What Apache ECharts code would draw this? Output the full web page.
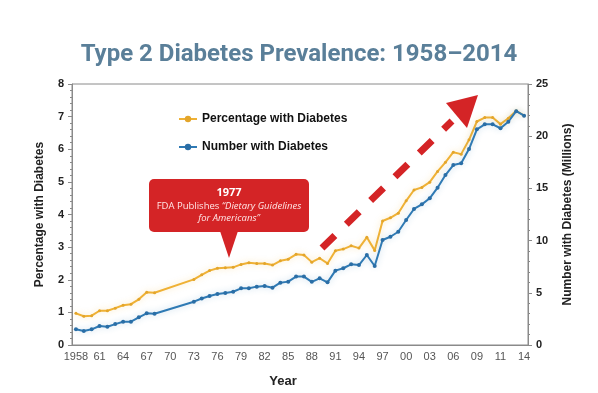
<!DOCTYPE html>
<html><head><meta charset="utf-8">
<script src="https://cdn.jsdelivr.net/npm/echarts@6/dist/echarts.min.js"></script>
<style>html,body{margin:0;padding:0;background:#fff}#c{width:598px;height:393px}</style>
</head><body><div id="c"></div>
<script>
const years = ['1958','1959','1960','1961','1962','1963','1964','1965','1966','1967','1968','1969','1970','1971','1972','1973','1974','1975','1976','1977','1978','1979','1980','1981','1982','1983','1984','1985','1986','1987','1988','1989','1990','1991','1992','1993','1994','1995','1996','1997','1998','1999','2000','2001','2002','2003','2004','2005','2006','2007','2008','2009','2010','2010.5','2011','2012','2013','2014'];
const pctWithDiabetes = [0.97,0.88,0.9,1.05,1.05,1.13,1.22,1.25,1.4,1.62,1.6,null,null,null,null,2.01,2.15,2.28,2.35,2.37,2.38,2.47,2.52,2.5,2.5,2.45,2.58,2.63,2.78,2.76,2.54,2.66,2.5,2.89,2.94,3.04,2.97,3.3,2.9,3.8,3.9,4.04,4.42,4.75,4.83,4.99,5.32,5.6,5.91,5.85,6.29,6.85,6.97,6.97,6.77,6.95,7.18,7.03];
const numWithDiabetes = [1.5,1.34,1.5,1.82,1.75,2.0,2.23,2.23,2.65,3.03,3.0,null,null,null,null,4.15,4.45,4.7,4.88,4.98,5.1,5.43,5.43,5.59,5.65,5.49,5.97,6.07,6.55,6.55,6.05,6.39,6.0,7.12,7.35,7.73,7.66,8.62,7.57,10.06,10.37,10.85,11.97,13.03,13.47,14.05,15.07,16.28,17.24,17.4,18.77,20.66,21.14,21.14,20.76,21.39,22.4,21.96];
const leftTicks = [0,1,2,3,4,5,6,7,8];
const rightTicks = [0,5,10,15,20,25];

const chart = echarts.init(document.getElementById('c'));
const RED = '#d42426';
const AX = '#8a8a8a';
chart.setOption({
  animation: false,
  title: {text: 'Type 2 Diabetes Prevalence: 1958\u20132014', left: 'center', top: 38,
    textStyle: {fontFamily: 'Liberation Sans Narrow, Roboto, sans-serif', fontWeight: 'bold', fontSize: 24, color: '#5a7f99'}},
  legend: {orient: 'vertical', left: 178, top: 113, padding: 0, itemGap: 16, itemWidth: 18, itemHeight: 8,
    textStyle: {fontFamily: 'Liberation Sans, Arial, sans-serif', fontWeight: 'bold', fontSize: 12, color: '#111'},
    data: ['Percentage with Diabetes', 'Number with Diabetes']},
  grid: {left: 72, right: 70, top: 84, bottom: 48, show: true, borderColor: AX, borderWidth: 1},
  xAxis: {type: 'category', data: years, boundaryGap: true,
    name: 'Year', nameLocation: 'middle', nameGap: 30,
    nameTextStyle: {fontFamily: 'Liberation Sans, Arial, sans-serif', fontWeight: 'bold', fontSize: 13, color: '#222', padding: [0, 34, 0, 0]},
    axisLine: {lineStyle: {color: AX}},
    axisTick: {interval: 0, length: 4, alignWithLabel: false, lineStyle: {color: AX}},
    axisLabel: {interval: 2, margin: 6, fontFamily: 'Liberation Sans, Arial, sans-serif', fontSize: 11, color: '#555',
      formatter: v => v === '1958' ? '1958' : v.slice(2, 4)}},
  yAxis: [
    {type: 'value', min: 0, max: 8, interval: 1, position: 'left',
      name: 'Percentage with Diabetes', nameLocation: 'middle', nameGap: 26,
      nameTextStyle: {fontFamily: 'Liberation Sans, Arial, sans-serif', fontWeight: 'bold', fontSize: 12, color: '#222'},
      axisLine: {show: true, lineStyle: {color: AX}},
      axisTick: {show: true, length: 4, lineStyle: {color: AX}},
      minorTick: {show: true, splitNumber: 5, length: 2, lineStyle: {color: AX}},
      splitLine: {show: false},
      axisLabel: {margin: 8, fontFamily: 'Liberation Sans, Arial, sans-serif', fontWeight: 'bold', fontSize: 11, color: '#222',
        formatter: v => leftTicks.includes(v) ? String(v) : ''}},
    {type: 'value', min: 0, max: 25, interval: 5, position: 'right',
      name: 'Number with Diabetes (Millions)', nameLocation: 'middle', nameGap: 34, nameRotate: 90,
      nameTextStyle: {fontFamily: 'Liberation Sans, Arial, sans-serif', fontWeight: 'bold', fontSize: 12, color: '#222'},
      axisLine: {show: true, lineStyle: {color: AX}},
      axisTick: {show: true, length: 4, lineStyle: {color: AX}},
      minorTick: {show: true, splitNumber: 5, length: 2, lineStyle: {color: AX}},
      splitLine: {show: false},
      axisLabel: {margin: 8, fontFamily: 'Liberation Sans, Arial, sans-serif', fontWeight: 'bold', fontSize: 11, color: '#222',
        formatter: v => rightTicks.includes(v) ? String(v) : ''}}
  ],
  series: [
    {name: 'Percentage with Diabetes', type: 'line', yAxisIndex: 0, data: pctWithDiabetes, connectNulls: true,
      symbol: 'circle', symbolSize: 3, showSymbol: true,
      lineStyle: {color: '#efb135', width: 2, shadowColor: 'rgba(239,177,53,0.35)', shadowBlur: 6},
      itemStyle: {color: '#e3a52a'}},
    {name: 'Number with Diabetes', type: 'line', yAxisIndex: 1, data: numWithDiabetes, connectNulls: true,
      symbol: 'circle', symbolSize: 4, showSymbol: true,
      lineStyle: {color: '#2f7ab4', width: 2, shadowColor: 'rgba(47,122,180,0.3)', shadowBlur: 6},
      itemStyle: {color: '#2a6ea6'}}
  ],
  graphic: [
    {type: 'rect', shape: {x: 149, y: 179, width: 160, height: 53, r: 5}, style: {fill: RED}, z: 100},
    {type: 'polygon', shape: {points: [[220, 231], [238, 231], [229, 258]]}, style: {fill: RED}, z: 100},
    {type: 'text', x: 229, y: 186, z: 101, style: {
      text: '{b|1977}\n{n|FDA Publishes }{i|\u201cDietary Guidelines}\n{i|for Americans\u201d}',
      align: 'center', verticalAlign: 'top',
      rich: {
        b: {fontFamily: 'Open Sans, sans-serif', fontWeight: 'bold', fontSize: 11, fill: '#fff', lineHeight: 14},
        n: {fontFamily: 'Open Sans, sans-serif', fontSize: 9.5, fill: '#ffe6e6', lineHeight: 12},
        i: {fontFamily: 'Open Sans, sans-serif', fontStyle: 'italic', fontSize: 9.5, fill: '#ffe6e6', lineHeight: 12}
      }}},
    {type: 'line', shape: {x1: 322, y1: 248, x2: 452, y2: 121}, z: 100,
      style: {stroke: RED, lineWidth: 7, lineDash: [18, 16], lineCap: 'butt'}},
    {type: 'polygon', shape: {points: [[478, 95], [446, 103], [467, 128]]}, style: {fill: RED}, z: 100}
  ]
});
</script></body></html>
